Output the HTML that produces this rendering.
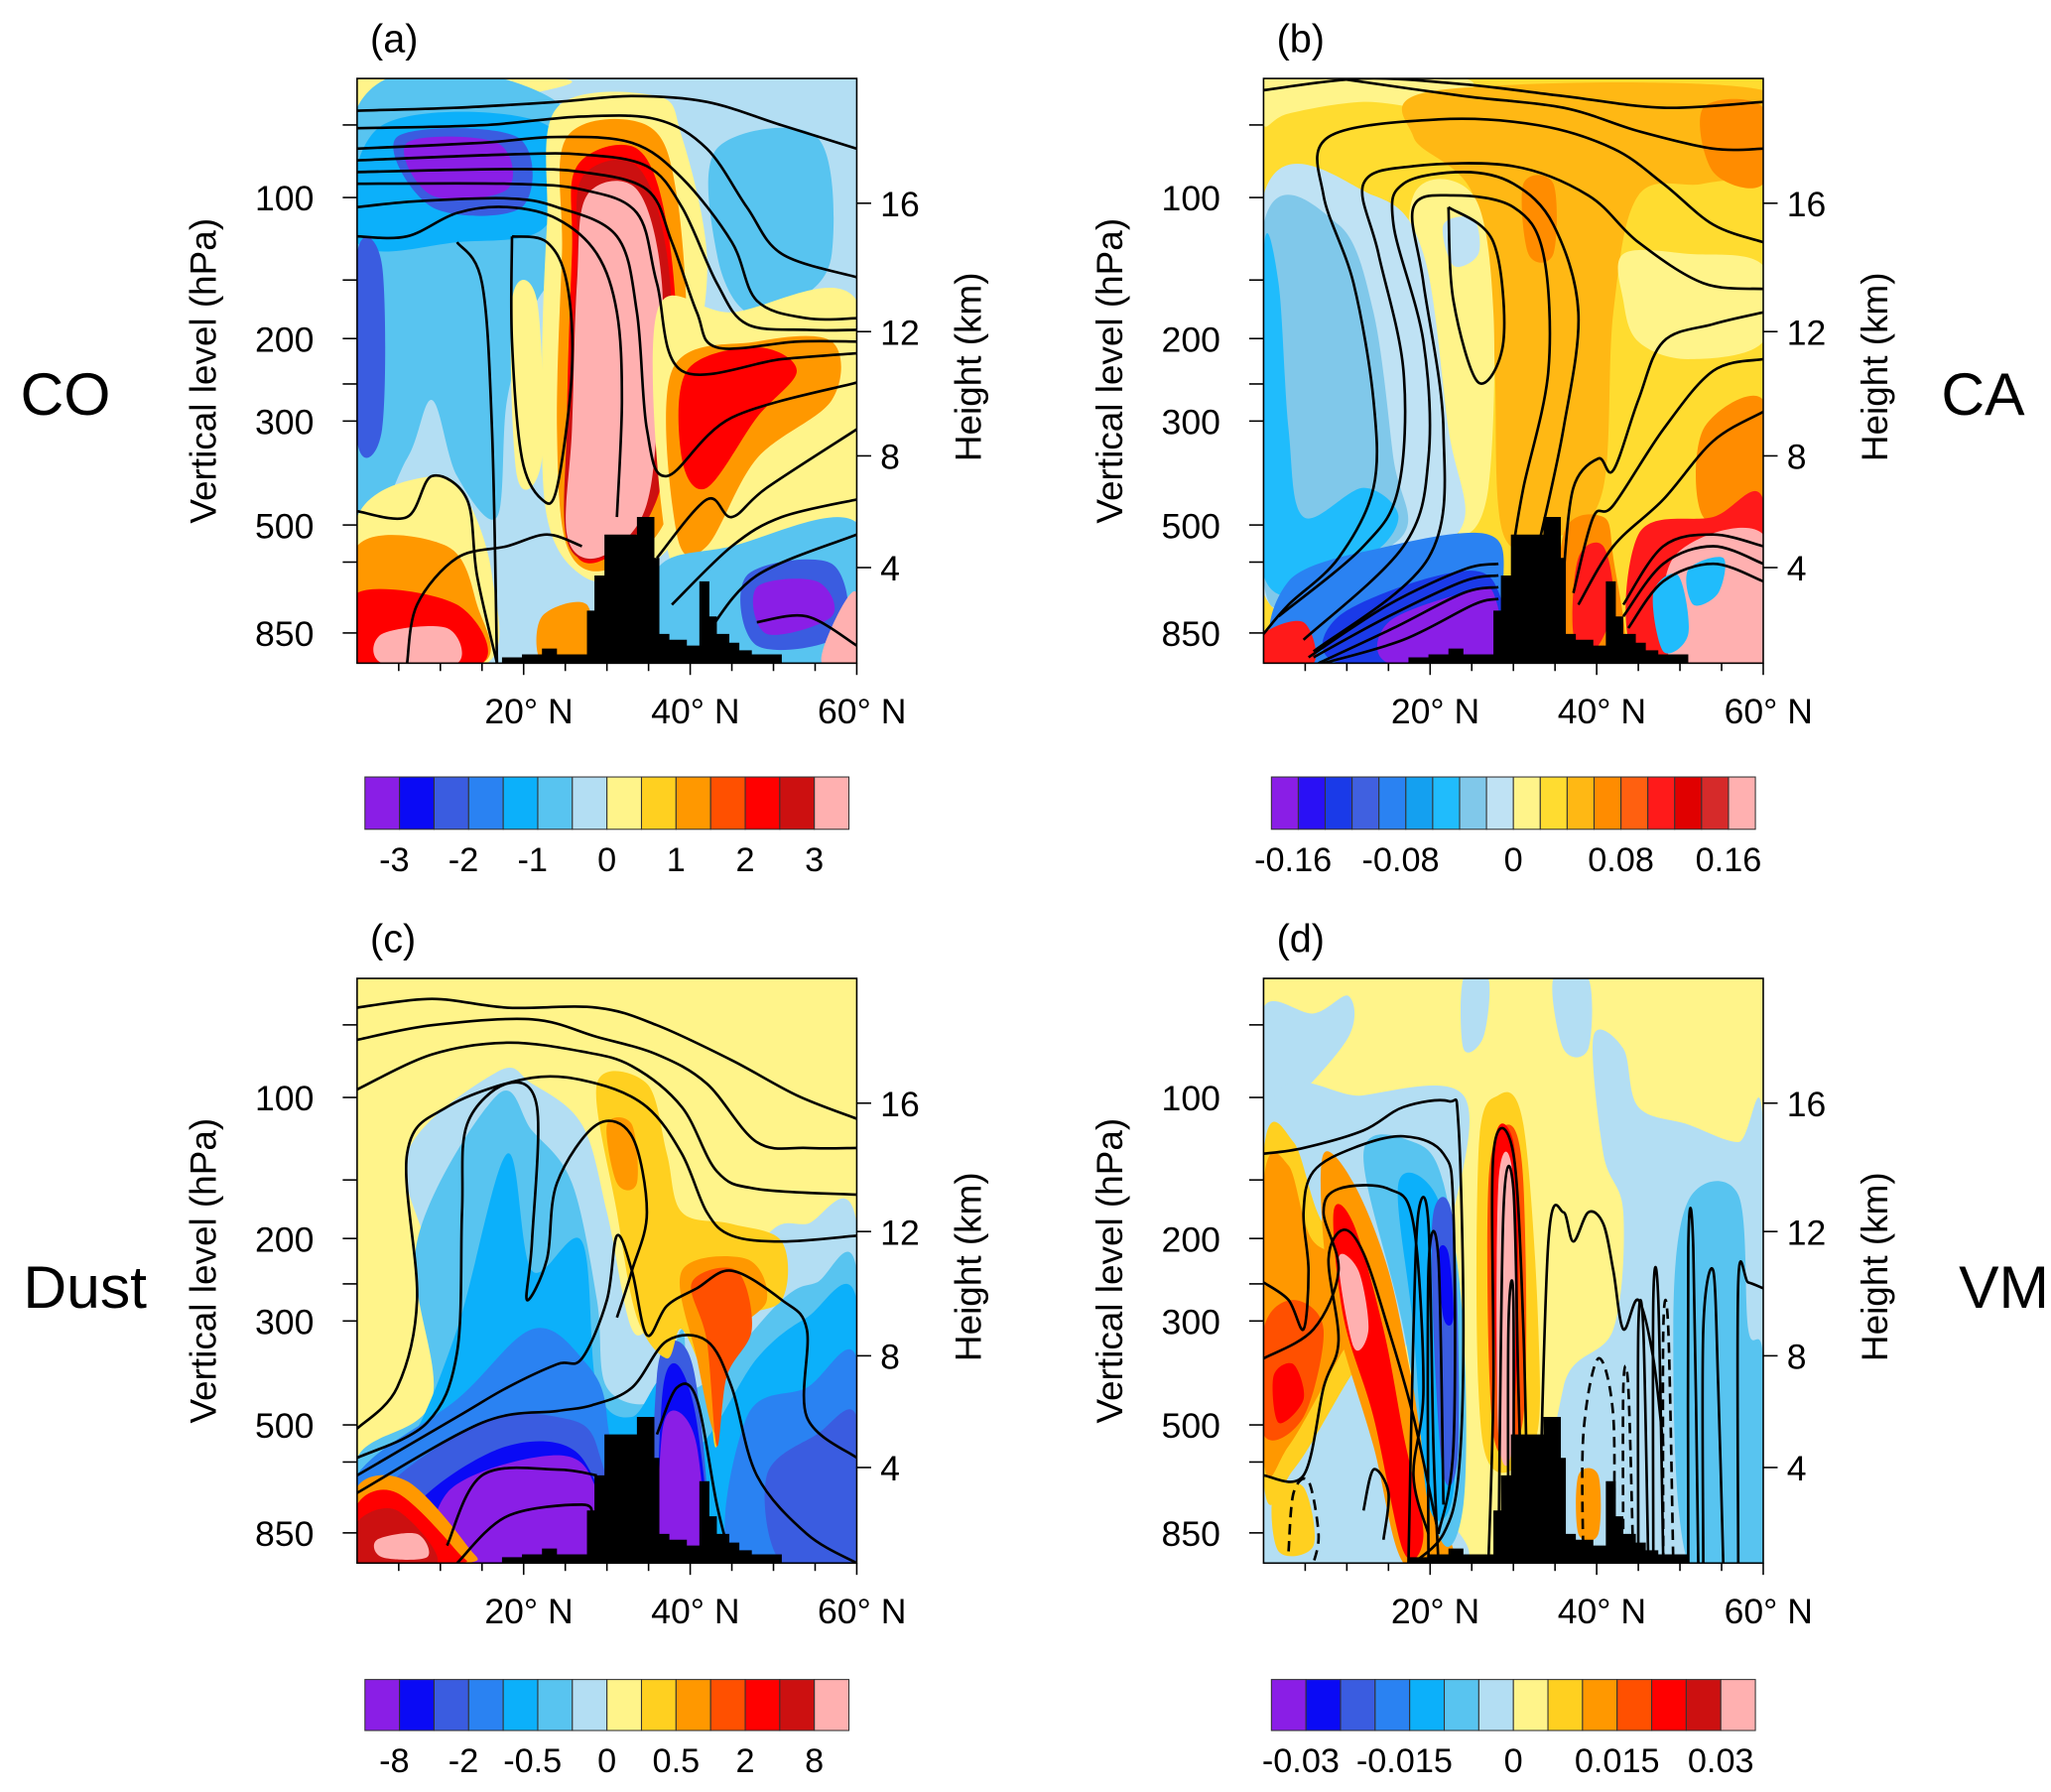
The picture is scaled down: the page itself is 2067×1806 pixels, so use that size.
<!DOCTYPE html>
<html><head><meta charset="utf-8"><style>
html,body{margin:0;padding:0;background:#fff;}
svg{display:block;font-family:"Liberation Sans",Arial,sans-serif;}
</style></head><body>
<svg id="fig" xmlns="http://www.w3.org/2000/svg" width="2067" height="1806" viewBox="0 0 1568 1370">
<rect x="0" y="0" width="1568" height="1370" fill="#fff"/>
<text x="50" y="317" font-size="46" text-anchor="middle">CO</text>
<text x="1516" y="317" font-size="46" text-anchor="middle">CA</text>
<text x="65" y="1000" font-size="46" text-anchor="middle">Dust</text>
<text x="1532" y="1000" font-size="46" text-anchor="middle">VM</text>
</svg>
<script>
const NS="http://www.w3.org/2000/svg";
const C14=['#8a1ee6','#0a0af5','#3a5ce0','#2a82f2','#0cb0fa','#58c4f0','#b3def3','#fff48a','#ffd020','#ff9800','#ff5000','#ff0000','#cc1010','#ffb0b0'];
const C18=['#8a1ee6','#2a10f5','#1a3ae8','#4060e0','#2a82f2','#14a0f0','#20bcfc','#80c8ea','#bfe2f4','#fff48a','#ffdc30','#ffb814','#ff8c00','#ff6010','#ff1a1a','#e00000','#d62a2a','#ffb0b0'];
const labelsA=['-3','-2','-1','0','1','2','3'];
const labelIdxA=[1,3,5,7,9,11,13];
const labelsB=['-0.16','-0.08','0','0.08','0.16'];
const labelIdxB=[1,5,9,13,17];
const labelsC=['-8','-2','-0.5','0','0.5','2','8'];
const labelIdxC=[1,3,5,7,9,11,13];
const labelsD=['-0.03','-0.015','0','0.015','0.03'];
const labelIdxD=[1,4,7,10,13];
const pressureTicks=[100,200,300,500,850];
const pressureMinor=[70,150,250,600];
const heightTicks=[16,12,8,4];
const latTicks=[20,40,60];
const latMinor=[5,10,15,25,30,35,45,50,55];
const terrain=[[29,100],[29,99],[33,99],[33,98.5],[37,98.5],[37,97.5],[40,97.5],[40,98.5],[46,98.5],[46,91],[47.5,91],[47.5,85],[49.5,85],[49.5,78],[56,78],[56,75],[59.5,75],[59.5,82],[60.5,82],[60.5,95],[62.5,95],[62.5,96],[66,96],[66,97],[68.5,97],[68.5,86],[70.5,86],[70.5,92],[72,92],[72,95],[74.5,95],[74.5,96.5],[76.5,96.5],[76.5,97.8],[79,97.8],[79,98.5],[85,98.5],[85,100]];

const fieldA=[
[7,[[0,0],[40,0],[38,2],[20,4],[0,5]]],
[5,[[0,5],[40,4],[40,30],[35,40],[30,55],[28,75],[20,68],[15,55],[10,65],[0,75]]],
[5,[[72,12],[92,10],[95,30],[88,38],[78,40],[72,30]]],
[4,[[5,8],[38,8],[38,25],[20,28],[0,28]]],
[2,[[8,10],[32,10],[33,22],[15,22]]],
[0,[[10,11],[28,11],[30,19],[15,20]]],
[2,[[0,30],[5,32],[5,60],[0,62]]],
[7,[[31,38],[36,38],[37,65],[32,68]]],
[7,[[40,5],[60,3],[65,10],[70,30],[68,50],[66,75],[55,85],[45,85],[38,75],[37,50],[38,25]]],
[9,[[42,10],[58,8],[64,20],[66,50],[62,75],[50,84],[42,80],[40,60],[41,30]]],
[11,[[44,15],[56,12],[62,25],[64,50],[60,72],[50,82],[43,80],[42,60],[43,30]]],
[12,[[45,17],[56,15],[62,30],[63,55],[59,74],[49,82],[42,79],[42,60],[44,32]]],
[13,[[46,20],[56,19],[61,35],[60,60],[57,75],[48,82],[42,78],[43,60],[44,35]]],
[7,[[60,40],[75,40],[100,38],[100,75],[85,82],[70,85],[62,80]]],
[9,[[63,50],[80,45],[95,45],[95,55],[80,65],[70,80],[64,78]]],
[11,[[66,50],[80,46],[88,50],[80,58],[70,70],[65,65]]],
[5,[[60,84],[75,80],[100,76],[100,100],[60,100]]],
[2,[[78,85],[95,83],[97,95],[80,97]]],
[0,[[80,87],[92,86],[95,92],[82,95]]],
[13,[[96,92],[100,88],[100,100],[93,100]]],
[7,[[0,75],[15,68],[22,72],[27,85],[26,100],[0,100]]],
[9,[[0,80],[18,80],[24,90],[25,100],[0,100]]],
[11,[[0,88],[20,90],[25,100],[0,100]]],
[13,[[5,95],[18,94],[20,100],[5,100]]],
[9,[[37,92],[46,90],[46,100],[37,100]]]
];
const contourA=[
[[0,5.5],[20,5],[40,4],[55,3],[70,4],[85,8],[100,12]],
[[0,8.5],[25,8],[45,6.5],[60,7],[70,12],[78,22],[85,30],[100,34]],
[[0,12],[25,11],[40,10],[55,11],[65,17],[75,28],[80,38],[90,41],[100,41]],
[[0,14],[30,13],[45,13],[58,15],[65,22],[72,35],[78,42],[90,43],[100,43]],
[[0,16],[30,15.5],[45,16],[58,19],[63,28],[68,40],[72,46],[88,45],[100,45]],
[[0,18],[30,18],[45,19],[56,23],[60,35],[65,50],[85,48],[100,47]],
[[0,22],[12,21],[30,20.5],[40,22],[52,27],[56,40],[58,60],[62,68],[75,58],[100,52]],
[[0,27],[10,27],[20,23],[30,22],[40,24],[48,30],[52,40],[53,55],[52,75]],
[[20,28],[25,35],[27,60],[28,100]],
[[31,27],[38,28],[42,35],[43,50],[40,70],[37,72],[33,65],[31,45],[31,27]],
[[0,74],[10,75],[15,68],[22,72],[24,85],[28,100]],
[[10,100],[12,90],[20,82],[30,80],[38,78],[45,80]],
[[60,82],[70,72],[75,75],[82,70],[100,60]],
[[63,90],[75,80],[85,75],[100,72]],
[[70,95],[80,85],[100,78]],
[[80,93],[90,92],[100,97]]
];
const fieldB=[
[9,[[0,0],[40,0],[35,5],[20,4],[5,6],[0,8]]],
[11,[[35,2],[100,2],[100,15],[88,18],[75,20],[70,40],[68,70],[60,78],[48,78],[46,45],[42,20],[30,10]]],
[12,[[88,5],[100,5],[100,18],[90,16]]],
[12,[[52,18],[58,18],[58,30],[53,30]]],
[9,[[72,30],[85,30],[100,32],[100,45],[85,48],[75,45],[72,38]]],
[9,[[30,20],[42,20],[46,40],[45,70],[40,78],[35,70],[30,45]]],
[8,[[0,20],[22,20],[32,30],[37,60],[40,76],[28,82],[0,88]]],
[7,[[0,25],[15,25],[22,40],[26,65],[28,78],[10,85],[0,86]]],
[6,[[0,30],[3,35],[5,60],[8,75],[20,70],[27,75],[20,82],[0,85]]],
[8,[[36,25],[42,24],[43,30],[38,32]]],
[4,[[5,86],[25,80],[45,78],[48,86],[45,100],[5,100]]],
[2,[[15,92],[35,85],[46,86],[46,100],[15,100]]],
[0,[[25,93],[40,88],[46,88],[46,100],[25,100]]],
[14,[[0,95],[8,93],[10,100],[0,100]]],
[12,[[60,78],[68,75],[70,82],[72,100],[60,100]]],
[14,[[63,82],[68,80],[70,90],[66,98],[62,95]]],
[12,[[88,60],[100,55],[100,75],[88,75]]],
[14,[[75,78],[90,75],[100,72],[100,100],[75,100]]],
[17,[[82,82],[100,78],[100,100],[82,100]]],
[6,[[78,88],[83,85],[85,95],[80,98]]],
[6,[[85,84],[92,82],[91,88],[86,90]]]
];
const contourB=[
[[0,2],[20,0],[40,1],[60,3],[80,5],[100,4]],
[[15,0],[40,3],[60,5],[75,9],[90,12],[100,12]],
[[0,95],[5,90],[15,82],[22,70],[22,55],[18,35],[12,20],[13,10],[35,7],[55,8],[70,12],[80,18],[90,25],[100,28]],
[[3,92],[20,80],[27,70],[28,50],[23,30],[20,18],[30,15],[50,15],[65,20],[75,28],[88,35],[100,36]],
[[8,96],[28,80],[33,65],[32,45],[26,25],[28,18],[40,16],[50,18],[58,25],[63,40],[60,60],[55,80]],
[[10,98],[33,82],[36,60],[32,35],[30,22],[38,20],[50,22],[56,30],[57,50],[52,70],[50,80]],
[[37,22],[46,28],[48,45],[43,52],[38,38],[37,22]],
[[9,99],[25,90],[40,84],[47,83]],
[[10,99],[25,92],[40,86],[47,85]],
[[11,100],[26,94],[40,88],[47,87]],
[[12,100],[28,96],[42,90],[47,89]],
[[60,85],[62,70],[67,65],[70,67],[75,55],[80,45],[90,42],[100,40]],
[[62,88],[66,75],[70,73],[80,60],[90,50],[100,48]],
[[63,90],[70,80],[80,72],[90,62],[100,57]],
[[72,90],[80,80],[90,78],[100,80]],
[[72,92],[80,83],[90,80],[100,83]],
[[73,94],[80,86],[90,83],[100,86]]
];
const fieldC=[
[6,[[10,30],[28,16],[35,18],[45,25],[50,40],[55,60],[60,58],[65,55],[70,62],[82,44],[90,42],[100,42],[100,100],[0,100],[0,85],[15,75],[15,50]]],
[5,[[12,45],[28,20],[35,26],[43,35],[48,55],[50,70],[60,72],[65,60],[68,70],[85,55],[92,52],[100,50],[100,100],[0,100],[0,82],[15,72]]],
[4,[[20,60],[30,30],[35,50],[45,45],[48,70],[55,75],[62,68],[68,80],[80,65],[90,58],[100,55],[100,100],[0,100],[0,85],[10,80]]],
[3,[[0,85],[20,72],[35,60],[45,65],[50,75],[48,100],[0,100]]],
[3,[[78,75],[90,70],[100,65],[100,100],[75,100]]],
[2,[[5,88],[25,76],[40,75],[48,80],[48,100],[5,100]]],
[2,[[82,85],[92,78],[100,75],[100,100],[85,100]]],
[2,[[60,68],[64,62],[68,70],[70,100],[60,100]]],
[1,[[12,90],[30,80],[45,82],[48,100],[12,100]]],
[1,[[61,72],[64,66],[68,76],[70,100],[61,100]]],
[0,[[18,88],[35,82],[46,84],[48,100],[18,100]]],
[0,[[61,78],[64,74],[68,80],[69,98],[61,98]]],
[8,[[48,18],[58,18],[62,30],[65,40],[75,42],[85,45],[85,55],[75,60],[72,80],[70,70],[65,60],[62,65],[56,58],[52,40]]],
[9,[[50,25],[55,25],[56,35],[52,35]]],
[9,[[65,50],[78,48],[82,55],[75,62],[72,78],[68,65]]],
[10,[[67,52],[76,50],[79,60],[74,68],[72,80],[70,62]]],
[9,[[0,87],[10,86],[22,97],[22,100],[0,100]]],
[11,[[0,90],[8,88],[20,98],[20,100],[0,100]]],
[12,[[0,93],[8,91],[16,100],[0,100]]],
[13,[[4,96],[12,95],[14,99],[5,99]]]
];
const contourC=[
[[0,5],[15,3.5],[30,5],[48,5],[60,8],[75,14],[88,20],[100,24]],
[[0,10.5],[15,8],[35,7],[48,10],[60,13],[70,18],[80,28],[90,29],[100,29]],
[[0,19],[15,13],[30,11],[45,12.5],[55,15],[65,22],[72,33],[80,36],[100,37]],
[[0,77],[8,70],[12,55],[10,30],[18,22],[35,17],[48,18],[58,22],[65,30],[70,40],[75,44],[85,45],[100,44]],
[[0,82],[14,76],[20,64],[21,40],[22,25],[30,18],[36,22],[35,45],[34,55],[38,48],[40,35],[48,25],[55,27],[58,40],[55,50],[52,58]],
[[0,85],[20,75],[30,70],[40,66],[45,65],[50,55],[52,44],[55,50],[58,61],[62,56],[68,53],[75,50],[85,55],[90,60],[90,75],[100,82]],
[[0,88],[25,76],[40,74],[47,73],[55,70],[62,62],[70,62],[75,70],[80,85],[90,95],[100,100]],
[[18,97],[25,85],[40,84],[48,85]],
[[20,100],[30,92],[45,90],[47,92]],
[[60,78],[64,70],[68,72],[72,90],[75,100]]
];
const fieldD=[
[6,[[0,5],[10,6],[17,3],[17,10],[5,22],[0,25]]],
[6,[[66,10],[72,12],[75,22],[85,25],[95,28],[100,25],[100,100],[60,100],[60,70],[70,60],[72,40],[68,30]]],
[6,[[40,0],[45,0],[44,10],[40,12]]],
[6,[[58,0],[65,0],[65,12],[60,12]]],
[6,[[0,25],[20,20],[40,20],[38,40],[30,60],[25,70],[30,85],[40,100],[0,100]]],
[5,[[85,38],[95,37],[97,60],[100,65],[100,100],[85,100],[82,60]]],
[8,[[0,30],[6,28],[12,42],[22,48],[24,58],[16,70],[6,84],[0,86]]],
[9,[[0,35],[5,32],[10,45],[20,48],[22,55],[15,65],[5,80],[0,82]]],
[10,[[0,60],[6,55],[12,60],[8,75],[0,78]]],
[11,[[2,68],[6,66],[8,72],[3,76]]],
[9,[[12,30],[18,35],[25,50],[30,70],[35,90],[38,100],[28,100],[22,80],[15,60],[12,45]]],
[11,[[14,40],[18,42],[24,60],[28,78],[32,95],[28,98],[22,75],[16,58]]],
[13,[[15,48],[19,50],[21,60],[18,63]]],
[5,[[20,30],[30,28],[36,35],[40,60],[40,90],[35,95],[28,60]]],
[4,[[27,35],[35,38],[38,60],[38,88],[33,90],[30,60]]],
[2,[[34,40],[38,42],[39,80],[36,85],[34,60]]],
[1,[[35,47],[37,47],[38,58],[36,58]]],
[8,[[43,30],[47,20],[52,25],[55,60],[54,80],[44,80]]],
[10,[[45,35],[49,25],[52,35],[52,75],[46,78]]],
[11,[[46,30],[50,28],[51,50],[50,75],[47,75]]],
[13,[[47,35],[50,35],[50,78],[47,78]]],
[9,[[63,85],[67,85],[67,95],[63,95]]],
[8,[[2,88],[8,87],[10,97],[3,98]]]
];
const contourD=[
[[0,30],[8,29],[20,26],[28,22],[37,21],[39,25],[40,60],[39,85],[36,95],[30,100]],
[[0,52],[5,55],[8,60],[9,50],[8,40],[10,33],[18,29],[28,27],[36,30],[38,40],[38,80],[35,95]],
[[0,65],[10,60],[15,50],[12,40],[15,36],[25,36],[30,42],[32,70],[30,85],[33,95]],
[[0,85],[8,85],[12,70],[15,62],[13,48],[16,43],[20,47],[25,60],[30,75],[35,95]],
[[45,100],[46,70],[46,30],[50,30],[52,60],[53,100]],
[[47,100],[48,40],[50,36],[51,70],[52,100]],
[[49,100],[49,60],[50,55],[50,100]],
[[55,100],[57,45],[60,40],[62,45],[65,40],[68,42],[70,50],[72,60],[75,55],[78,65],[80,80]],
[[75,100],[75,60],[76,60],[77,100]],
[[78,100],[78,55],[79,55],[80,100]],
[[85,100],[85,46],[86,46],[87,100]],
[[88,100],[88,60],[90,50],[91,70],[92,100]],
[[95,100],[95,52],[97,52],[100,53]],
[[20,91],[22,84],[25,88],[24,96]],
[[29,100],[30,60],[31,40],[33,42],[34,80],[35,100]],
[[33,100],[33,50],[35,48],[36,90]]
];
const dashedD=[
[[5,98],[6,88],[9,86],[11,95],[10,100]],
[[64,100],[64,78],[67,65],[70,75],[70,100]],
[[72,100],[72,70],[73,70],[74,100]],
[[80,100],[80,60],[81,60],[82,100]]
];

const panels=[
 {id:'a',x:273,y:60,field:fieldA,cont:contourA,dash:[],base:'#b3def3',pal:C14,cbx:279,cby:594,cbh:40,labels:labelsA,idx:labelIdxA},
 {id:'b',x:966,y:60,field:fieldB,cont:contourB,dash:[],base:'#ffdc30',pal:C18,cbx:972,cby:594,cbh:40,labels:labelsB,idx:labelIdxB},
 {id:'c',x:273,y:748,field:fieldC,cont:contourC,dash:[],base:'#fff48a',pal:C14,cbx:279,cby:1284,cbh:39,labels:labelsC,idx:labelIdxC},
 {id:'d',x:966,y:748,field:fieldD,cont:contourD,dash:dashedD,base:'#fff48a',pal:C14,cbx:972,cby:1284,cbh:39,labels:labelsD,idx:labelIdxD}
];
const W=382,H=447,CBW=370;
const svg=document.getElementById('fig');
function el(tag,attrs,parent){const e=document.createElementNS(NS,tag);for(const k in attrs)e.setAttribute(k,attrs[k]);(parent||svg).appendChild(e);return e;}
function smoothClosed(p){let d='M'+p[0][0]+','+p[0][1];const n=p.length;for(let i=0;i<n;i++){const p0=p[(i-1+n)%n],p1=p[i],p2=p[(i+1)%n],p3=p[(i+2)%n];d+='C'+(p1[0]+(p2[0]-p0[0])/6)+','+(p1[1]+(p2[1]-p0[1])/6)+' '+(p2[0]-(p3[0]-p1[0])/6)+','+(p2[1]-(p3[1]-p1[1])/6)+' '+p2[0]+','+p2[1];}return d+'Z';}
function smoothOpen(p){let d='M'+p[0][0]+','+p[0][1];const n=p.length;for(let i=0;i<n-1;i++){const p0=p[Math.max(i-1,0)],p1=p[i],p2=p[i+1],p3=p[Math.min(i+2,n-1)];d+='C'+(p1[0]+(p2[0]-p0[0])/6)+','+(p1[1]+(p2[1]-p0[1])/6)+' '+(p2[0]-(p3[0]-p1[0])/6)+','+(p2[1]-(p3[1]-p1[1])/6)+' '+p2[0]+','+p2[1];}return d;}
function vOfP(p){return -1.399+0.348*Math.log(p);}
function pOfZ(z){return z<=11?1013.25*Math.pow(1-z/44.33,5.256):226.3*Math.exp(-(z-11)/6.34);}
function vOfZ(z){return vOfP(pOfZ(z));}
function uOfLat(l){return l/60;}

panels.forEach(P=>{
 const X=u=>P.x+u/100*W, Y=v=>P.y+v/100*H;
 const map=pts=>pts.map(q=>[X(q[0]),Y(q[1])]);
 const cp=el('clipPath',{id:'clip-'+P.id});
 el('rect',{x:P.x,y:P.y,width:W,height:H},cp);
 const g=el('g',{'clip-path':'url(#clip-'+P.id+')'});
 
 
 const bg=el('rect',{x:P.x,y:P.y,width:W,height:H,fill:P.base},g);
 
 
 P.field.forEach(f=>{
  const s=el('path',{d:smoothClosed(map(f[1])),fill:P.pal[f[0]],stroke:'none'},g);
  
  
 });
 P.cont.forEach(c=>{
  const s=el('path',{d:smoothOpen(map(c)),fill:'none',stroke:'#000','stroke-width':2},g);
  
  
 });
 P.dash.forEach(c=>{
  const s=el('path',{d:smoothOpen(map(c)),fill:'none',stroke:'#000','stroke-width':2,'stroke-dasharray':'8,5'},g);
  
  
 });
 const t=el('polygon',{points:map(terrain).map(q=>q.join(',')).join(' '),fill:'#000'},g);
 
 
 const fr=el('rect',{x:P.x,y:P.y,width:W,height:H,fill:'none',stroke:'#000','stroke-width':1.2});
 
 
 pressureTicks.forEach(p=>{
  const y=Y(vOfP(p)*100);
  el('line',{x1:P.x-11,x2:P.x,y1:y,y2:y,stroke:'#000','stroke-width':1.2});
  const tx=el('text',{x:P.x-33,y:y+10,'font-size':27,'text-anchor':'end'});tx.textContent=p;
  
  
 });
 pressureMinor.forEach(p=>{const y=Y(vOfP(p)*100);el('line',{x1:P.x-11,x2:P.x,y1:y,y2:y,stroke:'#000','stroke-width':1.2});});
 heightTicks.forEach(z=>{
  const y=Y(vOfZ(z)*100);
  el('line',{x1:P.x+W,x2:P.x+W+11,y1:y,y2:y,stroke:'#000','stroke-width':1.2});
  const tx=el('text',{x:P.x+W+18,y:y+10,'font-size':27});tx.textContent=z;
  
  
 });
 latTicks.forEach(l=>{
  const x=X(uOfLat(l)*100);
  el('line',{x1:x,x2:x,y1:P.y+H,y2:P.y+H+9,stroke:'#000','stroke-width':1.2});
  const tx=el('text',{x:x+4,y:P.y+H+46,'font-size':27,'text-anchor':'middle'});tx.textContent=l+'° N';
  
  
 });
 latMinor.forEach(l=>{const x=X(uOfLat(l)*100);el('line',{x1:x,x2:x,y1:P.y+H,y2:P.y+H+6,stroke:'#000','stroke-width':1.2});});
 const yt=el('text',{x:0,y:0,'font-size':28,'text-anchor':'middle',transform:'translate('+(P.x-108)+','+(P.y+H/2)+') rotate(-90)'});
 yt.textContent='Vertical level (hPa)';
 
 
 const rt=el('text',{x:0,y:0,'font-size':28,'text-anchor':'middle',transform:'translate('+(P.x+W+95)+','+(P.y+H/2-3)+') rotate(-90)'});
 rt.textContent='Height (km)';
 
 
 const pl=el('text',{x:P.x+10,y:P.y-20,'font-size':30});pl.textContent='('+P.id+')';
 
 
 const n=P.pal.length,bw=CBW/n;
 const cb=el('g',{});
 
 
 P.pal.forEach((c,i)=>{
  const r=el('rect',{x:P.cbx+i*bw,y:P.cby,width:bw,height:P.cbh,fill:c,stroke:'#333','stroke-width':0.8},cb);
  
  
 });
 P.labels.forEach((s,i)=>{
  const x=P.cbx+P.idx[i]*bw - (s[0]==='-'?4:0);
  const tx=el('text',{x:x,y:P.cby+P.cbh+32,'font-size':26,'text-anchor':'middle'},cb);tx.textContent=s;
  
  
 });
});
</script>
</body></html>
